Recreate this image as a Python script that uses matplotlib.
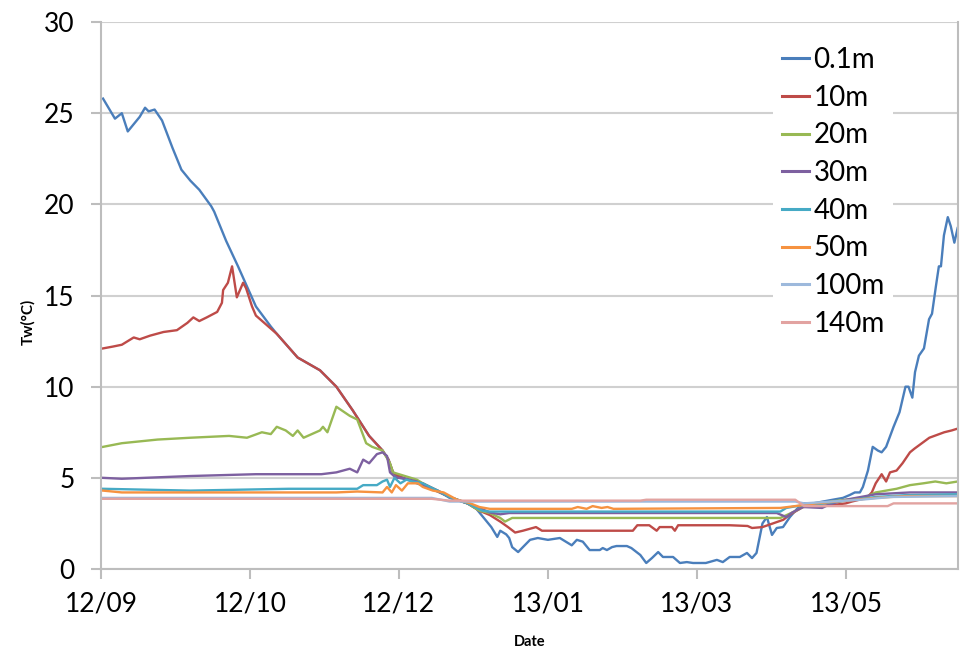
import matplotlib
matplotlib.use('Agg')
import matplotlib.pyplot as plt

plt.rcParams['font.family'] = ['Lato', 'DejaVu Sans']

# Water temperature at depth, days counted from 2012-09-01
tick_days = [0, 50, 100, 150, 200, 250]
tick_labels = ['12/09', '12/10', '12/12', '13/01', '13/03', '13/05']

depths = ['0.1m', '10m', '20m', '30m', '40m', '50m', '100m', '140m']
colors = ['#4A7EBB', '#BE4B48', '#98B954', '#7D60A0',
          '#46AAC5', '#F69240', '#9DB9DC', '#E2A3A1']

d_01 = [0.7, 4.7, 7, 9, 13, 14.8, 16, 18, 20.5, 24, 27, 30, 33, 37, 38, 42,
        46, 49, 52, 57, 59, 66, 73.5, 79, 84.5, 90, 94.5, 96.5, 98, 100, 103,
        106, 113, 117, 123, 126, 129.5, 131, 133, 134, 136, 137, 138, 140,
        141.6, 144, 146.6, 150, 154, 155, 158, 159.7, 161.7, 164, 167.4,
        168.4, 169.8, 171.5, 173, 176.5, 178, 181, 183, 184.9, 187, 188.6,
        192, 194.3, 196.6, 198.7, 203, 206.7, 208.7, 211, 214.4, 216.8,
        218.5, 220, 222, 223.5, 225.2, 226.8, 228.9, 231.2, 233.6, 235.6,
        239, 242.3, 245.6, 249, 251.3, 253, 254.7, 255.7, 257.4, 259, 260.7,
        262, 263.5, 266, 268, 270, 271, 272.3, 273.2, 274.5, 276.2, 277.9,
        278.9, 280.2, 281.2, 281.9, 282.9, 284.2, 285.2, 286.4, 287.5]
t_01 = [25.8, 24.7, 25.0, 24.0, 24.8, 25.3, 25.1, 25.2, 24.6, 23.1, 21.9,
        21.3, 20.8, 19.9, 19.6, 18.0, 16.6, 15.5, 14.4, 13.3, 12.9, 11.6,
        10.9, 10.0, 8.7, 7.3, 6.5, 6.0, 5.3, 5.0, 4.9, 4.7, 4.3, 3.9, 3.6,
        3.3, 2.6, 2.3, 1.76, 2.1, 1.9, 1.7, 1.2, 0.93, 1.2, 1.6, 1.7, 1.6,
        1.7, 1.6, 1.3, 1.6, 1.5, 1.04, 1.04, 1.15, 1.04, 1.2, 1.26, 1.26,
        1.15, 0.77, 0.33, 0.6, 0.93, 0.66, 0.66, 0.33, 0.38, 0.33, 0.33,
        0.5, 0.38, 0.66, 0.66, 0.88, 0.6, 0.88, 2.5, 2.85, 1.87, 2.25, 2.3,
        2.85, 3.3, 3.6, 3.6, 3.7, 3.8, 3.9, 4.06, 4.2, 4.2, 4.5, 5.4, 6.7,
        6.5, 6.4, 6.7, 7.8, 8.6, 10.0, 10.0, 9.4, 10.8, 11.7, 12.1, 13.7,
        14.0, 15.5, 16.6, 16.6, 18.3, 19.3, 18.8, 17.9, 18.7]

d_10 = [0.7, 4, 7, 11, 13, 16.5, 21, 25.5, 29, 31, 33, 35.5, 39, 40.6, 41,
        42.6, 44, 45.6, 47.7, 48.7, 50.7, 52, 59, 66, 73.5, 79, 84.5, 90,
        94.5, 96.5, 98, 100, 103, 108, 113, 117, 123, 127, 130.5, 134, 136.6,
        139, 141.6, 146, 148, 178.5, 180, 184, 186.5, 187.5, 191.6, 192.6,
        193.7, 211, 217, 218.5, 222, 225.5, 229, 231, 233.5, 235.6, 239, 245,
        250, 252, 257, 258.7, 260, 262, 263.5, 264.8, 267, 269, 271.5, 273,
        275.5, 278, 280.5, 283, 285.5, 287.5]
t_10 = [12.1, 12.2, 12.3, 12.7, 12.6, 12.8, 13.0, 13.1, 13.5, 13.8, 13.6,
        13.8, 14.1, 14.6, 15.3, 15.7, 16.6, 14.9, 15.7, 15.4, 14.4, 13.9,
        12.9, 11.6, 10.9, 10.0, 8.7, 7.3, 6.5, 6.0, 5.3, 5.1, 4.9, 4.7, 4.3,
        3.95, 3.6, 3.2, 2.96, 2.6, 2.3, 2.0, 2.1, 2.3, 2.1, 2.1, 2.4, 2.4,
        2.1, 2.3, 2.3, 2.1, 2.4, 2.4, 2.36, 2.25, 2.3, 2.5, 2.7, 2.96, 3.2,
        3.4, 3.45, 3.5, 3.6, 3.7, 3.9, 4.2, 4.7, 5.2, 4.8, 5.3, 5.4, 5.8,
        6.4, 6.6, 6.9, 7.2, 7.35, 7.5, 7.6, 7.7]

d_20 = [0.7, 7, 19, 30, 43, 49, 54, 57, 59, 62, 64.4, 66, 68, 73.5, 74.5, 76,
        79, 83.5, 86, 89, 91, 94.5, 97, 98, 100, 106, 111, 117, 123, 127,
        130.5, 134, 135.6, 138, 228, 232, 235.6, 239, 245, 250, 256, 260,
        263.5, 267, 271.5, 276, 280, 283.7, 287.5]
t_20 = [6.7, 6.9, 7.1, 7.2, 7.3, 7.2, 7.5, 7.4, 7.8, 7.6, 7.3, 7.6, 7.2, 7.6,
        7.8, 7.5, 8.9, 8.4, 8.2, 6.9, 6.7, 6.5, 5.8, 5.3, 5.2, 4.9, 4.4,
        3.95, 3.6, 3.2, 3.07, 2.8, 2.6, 2.8, 2.8, 3.1, 3.4, 3.5, 3.7, 3.8,
        3.9, 4.2, 4.3, 4.4, 4.6, 4.7, 4.8, 4.7, 4.8]

d_30 = [0.7, 7, 30, 52, 74, 79, 83.5, 86, 88, 90, 92.6, 94.5, 96, 97, 99,
        101, 106, 111, 117, 123, 127, 130.5, 134, 137, 226.8, 230, 232,
        235.6, 242, 244.6, 250, 260, 271.5, 287.5]
t_30 = [5.0, 4.95, 5.1, 5.2, 5.2, 5.3, 5.5, 5.3, 6.0, 5.8, 6.3, 6.4, 6.2,
        5.3, 5.0, 5.0, 4.8, 4.4, 3.95, 3.6, 3.35, 3.1, 3.0, 3.07, 3.07, 2.85,
        3.1, 3.4, 3.35, 3.55, 3.8, 4.1, 4.2, 4.2]

d_40 = [0.7, 30, 63, 86, 88, 92.6, 94.5, 96, 97, 98.5, 100.5, 102.5, 104.5,
        108, 113, 117, 123, 128, 130.5, 228, 230, 233.5, 240, 250, 260, 270,
        287.5]
t_40 = [4.4, 4.3, 4.4, 4.4, 4.6, 4.6, 4.8, 4.9, 4.5, 5.0, 4.7, 4.9, 4.8, 4.7,
        4.3, 3.95, 3.6, 3.2, 3.15, 3.15, 3.35, 3.45, 3.55, 3.75, 3.95, 4.05,
        4.1]

d_50 = [0.7, 7, 30, 79, 86, 94.5, 96, 97.6, 99, 101, 103, 106.4, 108, 111.4,
        115, 119.5, 124, 127, 130.5, 158, 160, 163, 165, 168, 170, 172, 228,
        233, 240, 250, 260, 270, 287.5]
t_50 = [4.3, 4.2, 4.2, 4.2, 4.25, 4.2, 4.5, 4.2, 4.6, 4.3, 4.7, 4.7, 4.5,
        4.3, 4.2, 3.8, 3.6, 3.4, 3.3, 3.3, 3.4, 3.3, 3.45, 3.35, 3.4, 3.3,
        3.35, 3.45, 3.6, 3.75, 3.9, 4.0, 4.0]

d_100 = [0.7, 111, 117, 182, 233, 236, 245, 255, 265, 287.5]
t_100 = [3.9, 3.9, 3.7, 3.7, 3.7, 3.6, 3.7, 3.8, 3.95, 4.0]

d_140 = [0.7, 111, 117, 181, 183, 233, 236, 264, 266, 287.5]
t_140 = [3.85, 3.85, 3.75, 3.75, 3.8, 3.8, 3.45, 3.45, 3.6, 3.6]

days = [d_01, d_10, d_20, d_30, d_40, d_50, d_100, d_140]
temps = [t_01, t_10, t_20, t_30, t_40, t_50, t_100, t_140]

fig = plt.figure(figsize=(9.68, 6.5), dpi=100)
ax = fig.add_axes([0.1043, 0.1246, 0.8853, 0.8415])

# later series are drawn over earlier ones
for i in range(len(depths)):
    ax.plot(days[i], temps[i], color=colors[i], lw=1.7, label=depths[i])

ax.set_xlim(0, 287.6)
ax.set_ylim(0, 30)
ax.set_yticks(range(0, 31, 5))
ax.set_xticks(tick_days)
ax.set_xticklabels(tick_labels)
ax.grid(axis='y', color='#D0D0D0', lw=1.5)
ax.set_axisbelow(True)

grey = '#BDBDBD'
for side in ['left', 'bottom', 'right']:
    ax.spines[side].set_color(grey)
    ax.spines[side].set_linewidth(1.5)
ax.spines['top'].set_visible(False)
ax.tick_params(axis='both', colors=grey, width=1.5, length=7,
               labelcolor='black', labelsize=19)
ax.tick_params(axis='y', pad=12)
ax.tick_params(axis='x', pad=9)

leg = ax.legend(loc='upper left',
                bbox_to_anchor=(0.7845, 0.962), bbox_transform=fig.transFigure,
                fontsize=20, frameon=True, edgecolor='none',
                facecolor='white', framealpha=1, handlelength=1.0,
                handletextpad=0.15, labelspacing=0.42, borderpad=0.3)
for line in leg.get_lines():
    line.set_linewidth(2.2)

fig.text(0.029, 0.505, 'Tw(°C)', rotation=90, ha='center', va='center',
         fontsize=11, fontweight='bold')
fig.text(0.547, 0.012, 'Date', ha='center', va='center',
         fontsize=10.5, fontweight='bold')

fig.savefig('out.png', dpi=100)
